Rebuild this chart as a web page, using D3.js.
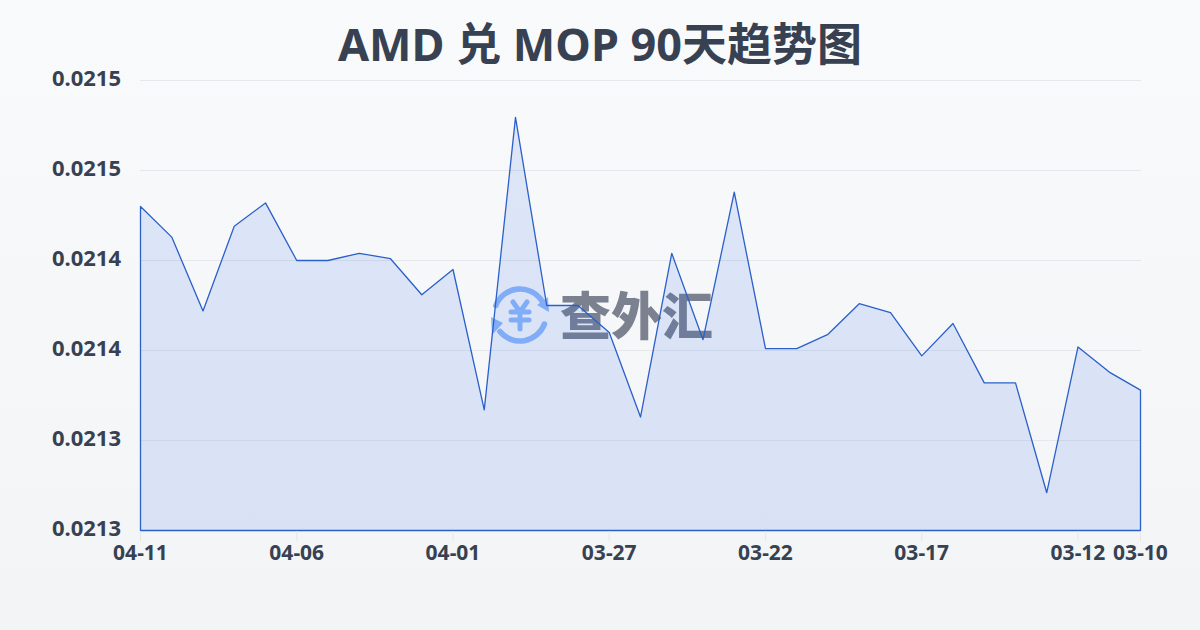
<!DOCTYPE html>
<html><head><meta charset="utf-8">
<script src="https://cdn.jsdelivr.net/npm/d3@7/dist/d3.min.js"></script>
<style>html,body{margin:0;padding:0;background:#f9fafb}svg{display:block}text{font-family:"Noto Sans","Noto Sans CJK SC",sans-serif}</style>
</head><body><svg id="c" width="1200" height="630"></svg>
<script>
const titleText = "AMD 兑 MOP 90天趋势图";
const dates = ["04-11","04-10","04-09","04-08","04-07","04-06","04-05","04-04","04-03","04-02","04-01","03-31","03-30","03-29","03-28","03-27","03-26","03-25","03-24","03-23","03-22","03-21","03-20","03-19","03-18","03-17","03-16","03-15","03-14","03-13","03-12","03-11","03-10"];
const rates = [0.02143,0.021413,0.021372,0.021419,0.021432,0.0214,0.0214,0.021404,0.021401,0.021381,0.021395,0.021317,0.0214795,0.021375,0.021375,0.02136,0.021313,0.021404,0.021356,0.021438,0.021351,0.021351,0.021359,0.021376,0.021371,0.021347,0.021365,0.021332,0.021332,0.021271,0.021352,0.021338,0.021328];
const yTicks = [0.02125,0.0213,0.02135,0.0214,0.02145,0.0215];
const yTickLabels = ["0.0213","0.0213","0.0214","0.0214","0.0215","0.0215"];
const xTickDates = ["04-11","04-06","04-01","03-27","03-22","03-17","03-12","03-10"];

const svg = d3.select("#c");
const defs = svg.append("defs");
const bg = defs.append("linearGradient").attr("id","bg").attr("x1",0).attr("y1",0).attr("x2",0).attr("y2",1);
bg.append("stop").attr("offset",0).attr("stop-color","#f9fafb");
bg.append("stop").attr("offset",1).attr("stop-color","#f3f4f6");
svg.append("rect").attr("width",1200).attr("height",630).attr("fill","url(#bg)");

const x = d3.scalePoint().domain(dates).range([140.5,1140.5]);
const y = d3.scaleLinear().domain([0.02125,0.0215]).range([530.5,80.5]);

svg.append("text").attr("x",600).attr("y",61).attr("text-anchor","middle")
  .attr("font-size",45).attr("font-weight",700).attr("fill","#374151").text(titleText);

// grid
svg.append("g").selectAll("line").data(yTicks).join("line")
  .attr("x1",140).attr("x2",1141).attr("y1",d=>y(d)).attr("y2",d=>y(d))
  .attr("stroke","#e5e7eb").attr("stroke-width",1);

// watermark
const blue = "#8fb8f8";
const wm = svg.append("g");
const cx=520, cy=315, r=26;
const arc = d3.arc().innerRadius(r-2.8).outerRadius(r+2.8).cornerRadius(2.5);
wm.append("path").attr("transform",`translate(${cx},${cy})`).attr("fill",blue).attr("d",arc({startAngle:-1.3,endAngle:1.09}));
wm.append("path").attr("transform",`translate(${cx},${cy})`).attr("fill",blue).attr("d",arc({startAngle:1.82,endAngle:4.13}));
wm.append("path").attr("fill",blue).attr("d",d3.line()([[537,305],[548,297],[549,312]]));
wm.append("path").attr("fill",blue).attr("d",d3.line()([[491,317],[503,323],[492,335]]));
const yen = [[[513,302],[520,312]],[[527,302],[520,312]],[[511,312],[529,312]],[[511,320],[529,320]],[[520,312],[520,329]]];
wm.append("g").selectAll("path").data(yen).join("path").attr("d",d=>d3.line()(d)).attr("stroke",blue).attr("stroke-width",5).attr("fill","none").attr("stroke-linecap","round");
wm.append("text").attr("x",560).attr("y",335).attr("font-size",51).attr("font-weight",900).attr("fill","#7b818f")
  .style("font-family",'"Noto Sans CJK SC"').text("查外汇");

// area
const area = d3.area().x(d=>x(d.date)).y0(y(0.02125)).y1(d=>y(d.rate));
const data = dates.map((date,i)=>({date,rate:rates[i]}));
svg.append("path").datum(data).attr("d",d=>area(d)+"Z").attr("fill","#2563eb").attr("fill-opacity",0.13)
  .attr("stroke","#2b5fc9").attr("stroke-width",1.3).attr("stroke-linejoin","round");

// axis ticks
const xg = svg.append("g");
xg.selectAll("line").data(xTickDates).join("line").attr("x1",d=>x(d)).attr("x2",d=>x(d)).attr("y1",531).attr("y2",541).attr("stroke","#e5e7eb");
xg.selectAll("text").data(xTickDates).join("text").attr("x",d=>x(d)).attr("y",560).attr("text-anchor","middle")
  .attr("font-size",21).attr("font-weight",700).attr("fill","#374151").text(d=>d);
svg.append("g").selectAll("text").data(yTicks).join("text").attr("x",121).attr("y",(d,i)=>y(d)+5).attr("text-anchor","end")
  .attr("font-size",22).attr("font-weight",700).attr("fill","#374151").text((d,i)=>yTickLabels[i]);
</script></body></html>
